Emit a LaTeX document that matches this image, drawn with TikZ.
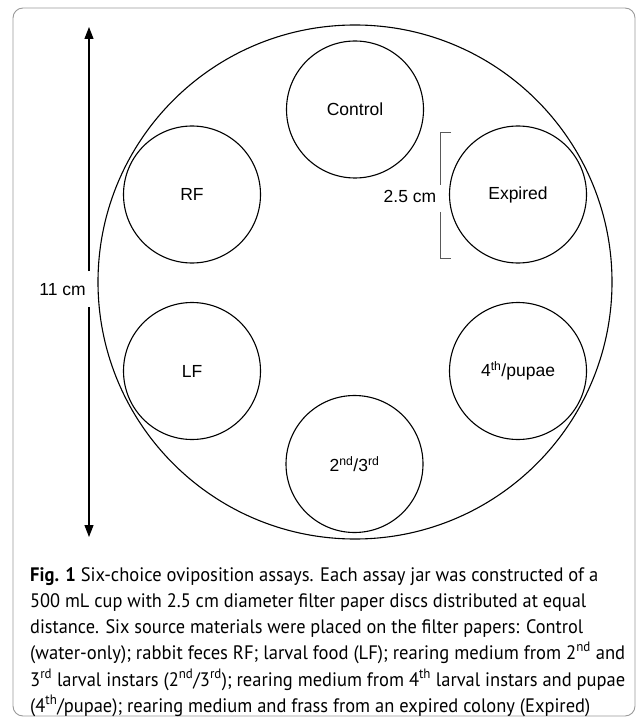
\documentclass[tikz,border=0pt]{standalone}
\usepackage{graphicx}
\usepackage{fontspec}
\setmainfont{Liberation Sans}
\newfontfamily\capfont{PT Sans}
\usetikzlibrary{arrows.meta}
\newcommand{\capfit}[2]{\resizebox{#1}{\height}{#2}}
\begin{document}
\begin{tikzpicture}[x=1pt,y=-1pt,
  disc/.style={draw, circle, minimum size=137pt, inner sep=0pt, line width=1.1pt, font=\fontsize{17.5}{20}\selectfont},
  lbl/.style={font=\fontsize{17.5}{20}\selectfont, inner sep=0pt},
  capline/.style={anchor=base west, inner sep=0pt, font=\capfont\fontsize{19.5}{26}\selectfont},
  dimline/.style={line width=0.8pt, gray!70!black},
  dimarrow/.style={line width=1.1pt, -{Triangle[length=12pt,width=9pt]}},
  ]
\useasboundingbox (0,0) rectangle (636,719);
\draw[gray!80, line width=0.9pt, rounded corners=10pt] (13,8) rectangle (635,716);
% jar
\node[draw, circle, minimum size=514pt, inner sep=0pt, line width=1.1pt] (jar) at (355,282) {};
% discs
\node[disc] (control) at (355,109.5) {Control};
\node[disc] (rf) at (192,194.5) {RF};
\node[disc] (expired) at (518,194.5) {Expired};
\node[disc] (lf) at (192,371) {LF};
\node[disc] (fourth) at (518,371) {4\textsuperscript{th}/pupae};
\node[disc] (second) at (354.5,464) {2\textsuperscript{nd}/3\textsuperscript{rd}};
% 11 cm dimension
\node[lbl, anchor=east] (elev) at (86,290) {11 cm};
\coordinate (atop) at (89,27);
\coordinate (abot) at (89,537);
\coordinate (gtop) at (89,271);
\coordinate (gbot) at (89,307);
\draw[dimarrow] (gtop) -- (atop);
\draw[dimarrow] (gbot) -- (abot);
% 2.5 cm bracket
\node[lbl] (twofive) at (410,196) {2.5 cm};
\coordinate (btt) at (451,132);
\coordinate (btl) at (440,132);
\coordinate (bgt) at (440,185);
\coordinate (bgb) at (440,212);
\coordinate (bbl) at (440,258);
\coordinate (bbt) at (451,258);
\draw[dimline] (btt) -- (btl) -- (bgt);
\draw[dimline] (bgb) -- (bbl) -- (bbt);
% caption
\node[capline] (c1) at (30,581) {\capfit{568pt}{{\bfseries Fig. 1} Six-choice oviposition assays. Each assay jar was constructed of a}};
\node[capline] (c2) at (30,607) {\capfit{556pt}{500 mL cup with 2.5 cm diameter filter paper discs distributed at equal}};
\node[capline] (c3) at (30,633.5) {\capfit{553pt}{distance. Six source materials were placed on the filter papers: Control}};
\node[capline] (c4) at (30,659.5) {\capfit{595pt}{(water-only); rabbit feces RF; larval food (LF); rearing medium from 2\textsuperscript{nd} and}};
\node[capline] (c5) at (30,686) {\capfit{595pt}{3\textsuperscript{rd} larval instars (2\textsuperscript{nd}/3\textsuperscript{rd}); rearing medium from 4\textsuperscript{th} larval instars and pupae}};
\node[capline] (c6) at (30,712) {\capfit{560pt}{(4\textsuperscript{th}/pupae); rearing medium and frass from an expired colony (Expired)}};
\end{tikzpicture}
\end{document}
